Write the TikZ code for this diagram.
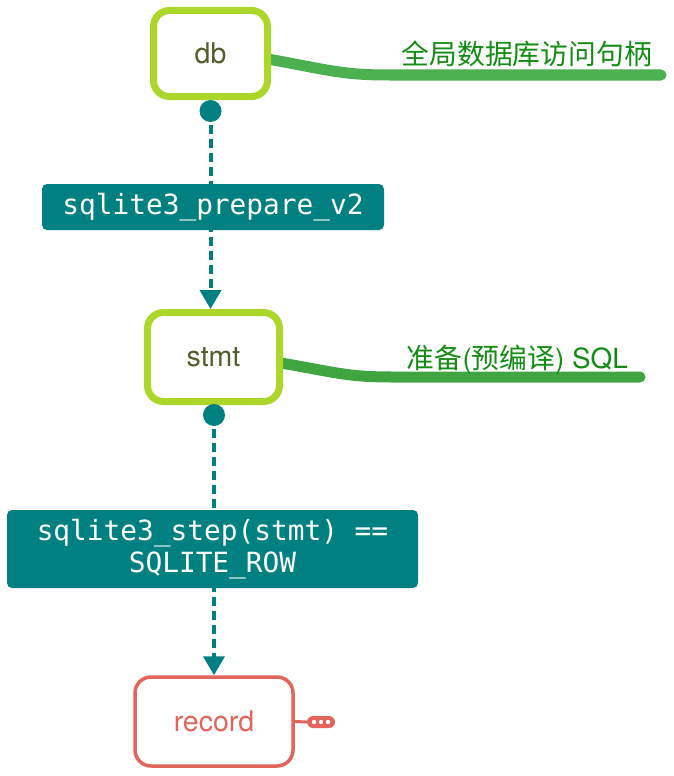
\documentclass[tikz,border=0pt]{standalone}
\usepackage{fontspec}
\setmainfont{TeX Gyre Heros}
\setmonofont{DejaVu Sans Mono}
\newfontfamily\cjk{Noto Sans CJK SC}
\usetikzlibrary{arrows.meta,calc}
\definecolor{lime}{RGB}{173,214,42}
\definecolor{olive}{RGB}{78,94,45}
\definecolor{tealc}{RGB}{0,128,128}
\definecolor{coral}{RGB}{226,100,90}
\definecolor{gline}{RGB}{76,175,80}
\definecolor{gline2}{RGB}{64,165,64}
\definecolor{gtext}{RGB}{18,140,18}
\tikzset{
  topicbox/.style={draw=lime, line width=7pt, rounded corners=16pt, fill=white,
    text=olive, inner sep=0pt, font=\fontsize{28.5}{32}\selectfont},
  recbox/.style={draw=coral, line width=3.5pt, rounded corners=16pt, fill=white,
    text=coral, inner sep=0pt, font=\fontsize{28.5}{32}\selectfont},
  codelabel/.style={fill=tealc, text=white, rounded corners=5pt, inner sep=0pt,
    align=center, font=\ttfamily\fontsize{27.8}{32}\selectfont},
  dotc/.style={circle, fill=tealc, minimum size=22pt, inner sep=0pt},
  flow/.style={draw=tealc, line width=4pt, dash pattern=on 9pt off 5pt,
    -{Triangle[width=21pt,length=19pt]}},
  branch/.style={line width=11pt, line cap=round},
  note/.style={text=gtext, inner sep=0pt, font=\fontsize{27.8}{32}\selectfont},
}
\begin{document}
\begin{tikzpicture}[x=1pt,y=-1pt]
\useasboundingbox (0,0) rectangle (674,776);
% coordinates
\coordinate (e1) at (661,75);
\coordinate (e2) at (640,377);
% green branches (under boxes)
\draw[branch, gline] (262,58) .. controls (330,70) and (340,75) .. (390,75) -- (e1);
\draw[branch, gline2] (275,362) .. controls (335,372) and (345,377) .. (392,377) -- (e2);
\node[note, anchor=base east] (t1) at (652,64) {\cjk 全局数据库访问句柄};
\node[note, anchor=base east] (t2) at (628,368) {{\cjk 准备}({\cjk 预编译}) SQL};
% nodes
\node[topicbox, minimum width=114pt, minimum height=86pt] (db) at (210.5,53.5) {db};
\node[topicbox, minimum width=132pt, minimum height=89pt] (stmt) at (213.5,357) {stmt};
\node[recbox, minimum width=158pt, minimum height=89pt] (rec) at (214,721.5) {record};
\node[dotc] (d1) at (210.5,111) {};
\node[dotc] (d2) at (214,415) {};
% flows
\draw[flow] (d1.center) -- (d1.center |- stmt.north);
\draw[flow] (d2.center) -- (d2.center |- rec.north);
% labels
\node[codelabel, minimum width=342pt, minimum height=46pt] (l1) at (213,207) {sqlite3\_prepare\_v2};
\node[codelabel, minimum width=411pt, minimum height=78pt] (l2) at (212.5,549) {sqlite3\_step(stmt) ==\\SQLITE\_ROW};
% record collapse marker
\node[fill=coral, rounded corners=6pt, minimum width=28pt, minimum height=12pt, inner sep=0pt] (pill) at (321,722) {};
\draw[coral, line width=3pt] (rec.east) -- (pill.west);
\foreach \dx in {-7,0,7} \fill[white] ($(pill.center)+(\dx,0)$) circle (2.2pt);
\end{tikzpicture}
\end{document}
